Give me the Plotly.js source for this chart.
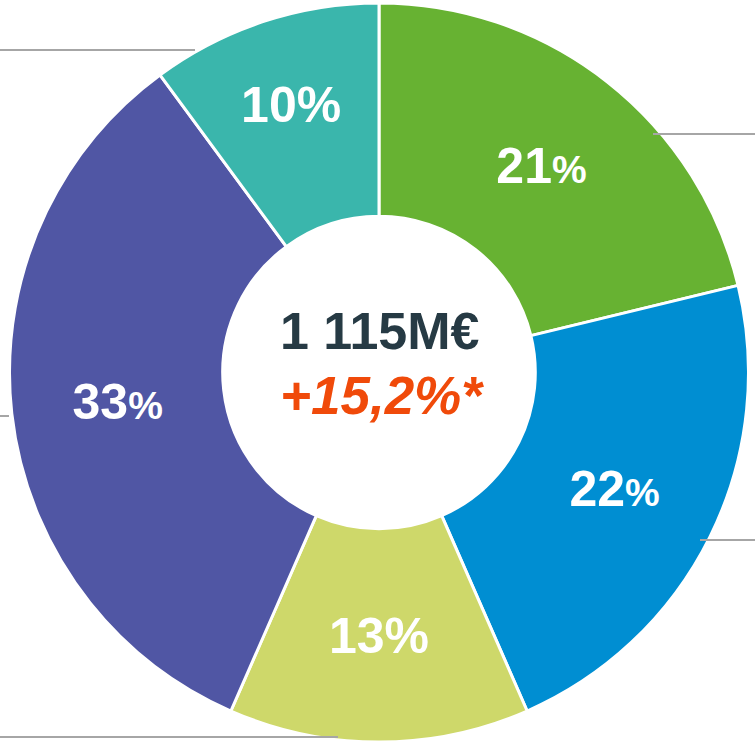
<!DOCTYPE html>
<html>
<head>
<meta charset="utf-8">
<script src="https://cdn.plot.ly/plotly-3.0.1.min.js"></script>
<style>html,body{margin:0;padding:0;background:#fff;}#chart{width:755px;height:742px;}</style>
</head>
<body>
<div id="chart"></div>
<script>
const categories = ["A", "B", "C", "D", "E"];
const values = [21, 22, 13, 33, 10];
const percentLabels = ["21%", "22%", "13%", "33%", "10%"];
const smallPercent = [true, true, false, true, false];
const colors = ["#67B232", "#008ED2", "#CED86A", "#5056A4", "#3AB6AC"];
const totalText = "1 115M€";
const growthText = "+15,2%*";

const texts = percentLabels.map((t, i) => smallPercent[i]
  ? t.replace("%", '<span style="font-size:39px">%</span>')
  : t);

const W = 755, H = 742;
const cx = 379, r = 370;
const trace = {
  type: "pie",
  labels: categories,
  values: values,
  text: texts,
  textinfo: "text",
  textposition: "inside",
  insidetextorientation: "horizontal",
  sort: false,
  direction: "clockwise",
  rotation: 0,
  hole: 0.423,
  marker: {colors: colors, line: {color: "#ffffff", width: 3}},
  insidetextfont: {family: "Liberation Sans, Arial, sans-serif", size: 50, color: "#ffffff", weight: "bold"},
  domain: {x: [(cx - r) / W, (cx + r) / W], y: [0, 1 - 3 / H]},
  hoverinfo: "none"
};

function py(px) { return 1 - px / H; }
function px(x) { return x / W; }
const lineStyle = {color: "#A6A6A6", width: 2};
const leaders = [
  [0, 50, 195, 50],
  [653, 134, 755, 134],
  [700, 540, 755, 540],
  [0, 737, 338, 737],
  [0, 416, 9, 416]
];
const shapes = leaders.map(l => ({
  type: "line", xref: "paper", yref: "paper",
  x0: px(l[0]), y0: py(l[1]), x1: px(l[2]), y1: py(l[3]),
  line: lineStyle, layer: "above"
}));

const layout = {
  width: W, height: H,
  margin: {l: 0, r: 0, t: 0, b: 0},
  showlegend: false,
  paper_bgcolor: "#ffffff",
  shapes: shapes,
  annotations: [
    {text: "<b>" + totalText + "</b>", xref: "paper", yref: "paper", x: px(380), y: py(331),
     showarrow: false, font: {family: "Liberation Sans, Arial, sans-serif", size: 52, color: "#263A44"}},
    {text: "<b><i>" + growthText + "</i></b>", xref: "paper", yref: "paper", x: px(382), y: py(395),
     showarrow: false, font: {family: "Liberation Sans, Arial, sans-serif", size: 53, color: "#F04A0A"}}
  ]
};

Plotly.newPlot("chart", [trace], layout, {staticPlot: true, displayModeBar: false});
</script>
</body>
</html>
